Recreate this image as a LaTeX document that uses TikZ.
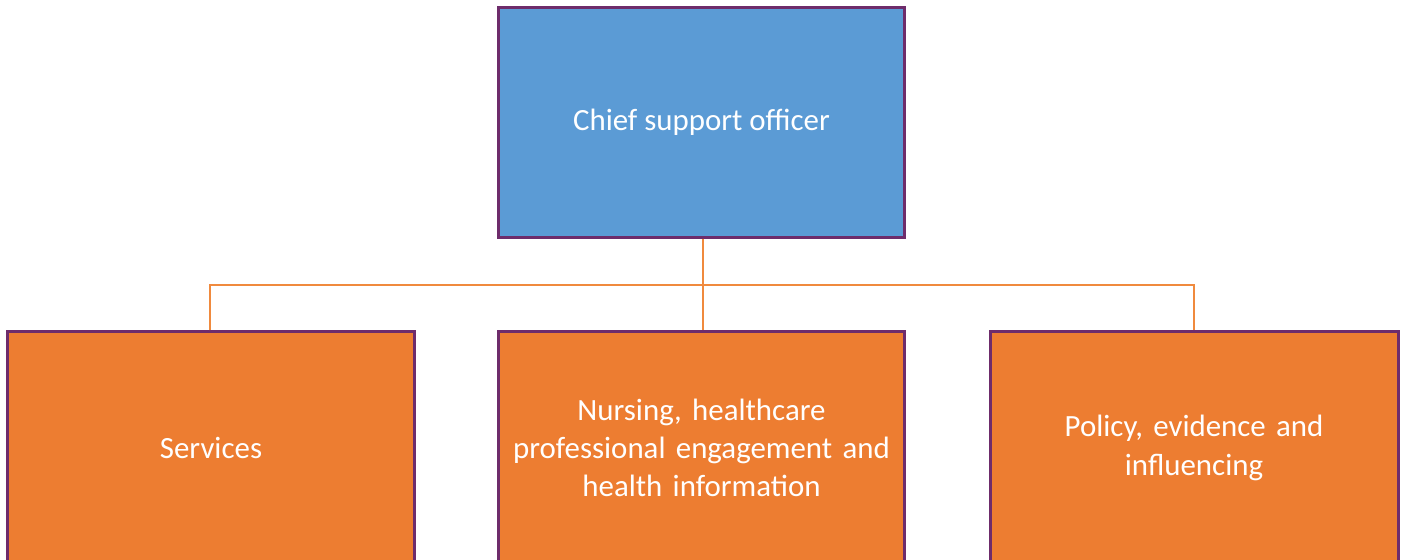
\documentclass[tikz,border=0pt]{standalone}
\usepackage{fontspec}
\setmainfont{Carlito}
\definecolor{boxblue}{HTML}{5B9BD5}
\definecolor{boxorange}{HTML}{ED7D31}
\definecolor{boxborder}{HTML}{6E2C6B}
\definecolor{linkorange}{HTML}{F08A3E}
\begin{document}
\begin{tikzpicture}[x=1bp,y=-1bp,
  box/.style={draw=boxborder,line width=3bp,text=white,align=center,
    font=\fontsize{31}{38.5}\selectfont,inner sep=0pt},
  link/.style={draw=linkorange,line width=2.2bp}]
\useasboundingbox (0,0) rectangle (1407,560);
\fill[white] (0,0) rectangle (1407,560);
\begin{scope}
\clip (0,0) rectangle (1407,560);
\node[box,fill=boxblue,minimum width=406bp,minimum height=229bp] (ceo) at (701.5,122.5) {Chief support officer};
\node[box,fill=boxorange,minimum width=406bp,minimum height=232bp] (svc) at (211,448) {Services};
\node[box,fill=boxorange,minimum width=406bp,minimum height=232bp,text width=400bp] (nur) at (701.5,448) {Nursing, healthcare\\professional engagement and\\health information};
\node[box,fill=boxorange,minimum width=408bp,minimum height=232bp,text width=400bp] (pol) at (1194,448) {Policy, evidence and\\influencing};
\coordinate (bus) at (703,285);
\begin{scope}[on background layer/.try]
\end{scope}
\draw[link] (ceo.south -| bus) -- (nur.north -| bus);
\draw[link] (svc.north -| 210,0) |- (bus) -| (pol.north -| 1194,0);
\end{scope}
\end{tikzpicture}
\end{document}
